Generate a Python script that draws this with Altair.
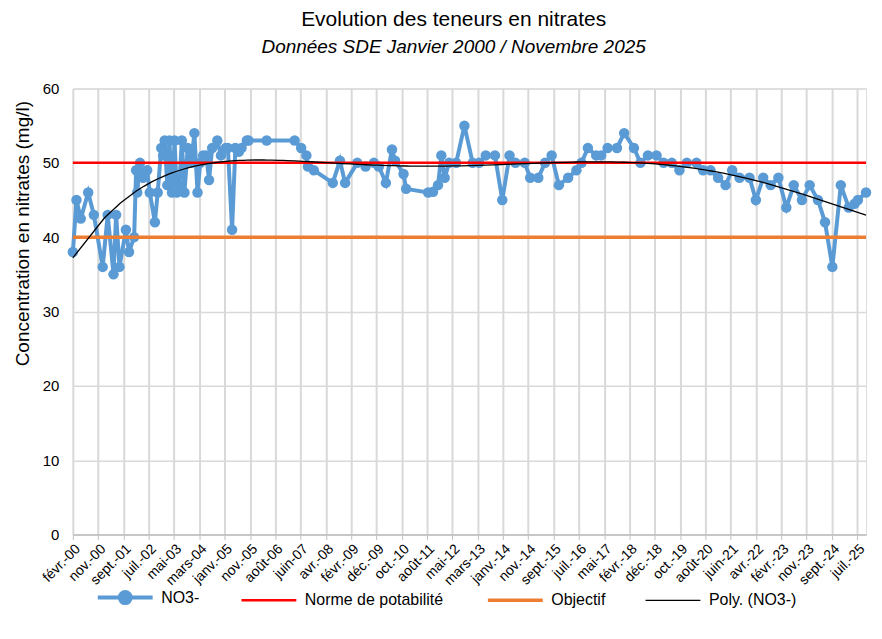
import json
import altair as alt
import pandas as pd

# ---- data ----
dates = [
    "2000-02-01", "2000-03-15", "2000-05-05", "2000-08-01", "2000-10-07",
    "2001-01-20", "2001-03-20", "2001-05-28", "2001-06-28", "2001-08-07",
    "2001-10-22", "2001-11-28", "2002-01-28", "2002-02-20", "2002-03-05",
    "2002-04-07", "2002-05-13", "2002-07-01", "2002-08-01", "2002-10-01",
    "2002-11-03", "2002-12-15", "2003-01-07", "2003-01-25", "2003-02-25",
    "2003-03-22", "2003-04-22", "2003-05-22", "2003-06-18", "2003-07-18",
    "2003-08-16", "2003-09-16", "2003-10-25", "2003-12-06", "2004-01-12",
    "2004-02-18", "2004-03-22", "2004-04-25", "2004-06-01", "2004-07-04",
    "2004-08-10", "2004-10-10", "2004-11-22", "2005-01-18", "2005-02-12",
    "2005-04-03", "2005-05-12", "2005-06-22", "2005-07-25", "2005-09-25",
    "2005-10-15", "2006-05-18", "2007-04-15", "2007-07-01", "2007-09-01",
    "2007-09-20", "2007-11-28", "2008-07-10", "2008-10-03", "2008-12-03",
    "2009-04-27", "2009-08-03", "2009-11-10", "2010-01-07", "2010-04-01",
    "2010-06-12", "2010-07-19", "2010-10-27", "2010-11-27", "2011-08-15",
    "2011-10-12", "2011-12-10", "2012-01-18", "2012-02-27", "2012-04-20",
    "2012-07-12", "2012-10-18", "2013-01-24", "2013-04-10", "2013-06-28",
    "2013-10-15", "2014-01-10", "2014-04-06", "2014-06-15", "2014-10-03",
    "2014-12-07", "2015-03-13", "2015-06-01", "2015-08-18", "2015-11-12",
    "2016-03-01", "2016-06-07", "2016-08-06", "2016-10-21", "2017-01-28",
    "2017-03-28", "2017-06-12", "2017-10-01", "2017-12-25", "2018-04-20",
    "2018-07-06", "2018-10-03", "2019-01-13", "2019-04-07", "2019-07-13",
    "2019-10-12", "2020-01-07", "2020-05-01", "2020-07-18", "2020-10-13",
    "2021-01-12", "2021-04-11", "2021-06-28", "2021-09-23", "2022-01-20",
    "2022-04-05", "2022-07-01", "2022-09-28", "2022-12-28", "2023-04-01",
    "2023-06-28", "2023-10-03", "2024-01-03", "2024-04-10", "2024-07-03",
    "2024-09-28", "2025-01-06", "2025-04-10", "2025-06-18", "2025-07-28",
    "2025-11-01",
]
no3 = [
    38, 45, 42.5, 46, 43,
    36, 43, 35, 43, 36,
    41, 38, 40, 49, 46,
    50, 48, 49, 46, 42,
    46, 52, 51, 53, 47,
    53, 46, 53, 46, 47,
    53, 46, 52, 50, 54,
    46, 50, 51, 51, 47.7,
    52, 53, 51, 52, 52,
    41, 52, 51.5, 52, 53,
    53, 53, 53, 52, 51,
    49.5, 49, 47.3, 50.3, 47.3,
    50, 49.5, 50, 49.5, 47.3,
    51.8, 50.3, 48.5, 46.5, 46,
    46.1, 47, 51, 48, 50,
    50, 55, 50, 50, 51,
    51, 45, 51, 50, 50,
    48, 48, 50, 51, 47,
    48, 49, 50, 52, 51,
    51, 52, 52, 54, 52,
    50, 51, 51, 50, 50,
    49, 50, 50, 49, 49,
    48, 47, 49, 48, 48,
    45, 48, 47, 48, 44,
    47, 45, 47, 45, 42,
    36, 47, 44, 44.5, 45,
    46,
]
tick_labels = [
    "févr.-00", "nov.-00", "sept.-01", "juil.-02", "mai-03", "mars-04",
    "janv.-05", "nov.-05", "août-06", "juin-07", "avr.-08", "févr.-09",
    "déc.-09", "oct.-10", "août-11", "mai-12", "mars-13", "janv.-14",
    "nov.-14", "sept.-15", "juil.-16", "mai-17", "févr.-18", "déc.-18",
    "oct.-19", "août-20", "juin-21", "avr.-22", "févr.-23", "nov.-23",
    "sept.-24", "juil.-25",
]
series_names = ["NO3-", "Norme de potabilité", "Objectif", "Poly. (NO3-)"]
series_colors = ["#5b9bd5", "#ff0000", "#ed7d31", "#000000"]
norme_value = 50
objectif_value = 40
tick_step_days = 300
y_ticks = [0, 10, 20, 30, 40, 50, 60]

# ---- tables ----
start = pd.Timestamp(dates[0])
t_years = [(pd.Timestamp(d) - start).days / 365.25 for d in dates]
df = pd.DataFrame({"t": t_years, "val": no3, "series": series_names[0]})
tmax = t_years[-1]
tick_vals = [i * tick_step_days / 365.25 for i in range(len(tick_labels))]
label_expr = (json.dumps(tick_labels, ensure_ascii=False)
              + f"[round(datum.value*365.25/{tick_step_days})]")

FONT = "Liberation Sans"

color_scale = alt.Scale(domain=series_names, range=series_colors)

line_path = "M-1,0H1"
dot_path = "M-1,0H1M0.2,0A0.2,0.2,0,1,1,-0.2,0A0.2,0.2,0,1,1,0.2,0Z"

legend = alt.Legend(
    title=None, orient="none", direction="horizontal",
    legendX=25, legendY=502,
    labelFont=FONT, labelFontSize=16, labelColor="#000000",
    symbolType=alt.ExprRef(expr=f"datum.value === 'NO3-' ? '{dot_path}' : '{line_path}'"),
    symbolFillColor=alt.ExprRef(expr="datum.value === 'NO3-' ? '#5b9bd5' : 'transparent'"),
    symbolStrokeWidth=alt.ExprRef(expr="datum.value === 'NO3-' ? 4 : (datum.value === 'Objectif' ? 3.5 : (datum.value === 'Norme de potabilité' ? 2.5 : 1.2))"),
    symbolOpacity=1, symbolOffset=19.5,
    symbolSize=3025, labelOffset=28,
    columnPadding=37,
)

x_enc = alt.X(
    "t:Q",
    scale=alt.Scale(domain=[0, tmax], nice=False, zero=False),
    axis=alt.Axis(
        values=tick_vals, tickCount=len(tick_labels) + 10,
        labelExpr=label_expr, labelAngle=-45,
        title=None, grid=True, gridColor="#d9d9d9", gridWidth=2,
        domainColor="#bfbfbf", domainWidth=1.5, tickColor="#bfbfbf", tickSize=5,
        labelFont=FONT, labelFontSize=14, labelColor="#000000", labelPadding=2,
        labelOverlap=False, labelBound=False,
    ),
)
y_enc = alt.Y(
    "val:Q",
    scale=alt.Scale(domain=[0, 60], nice=False),
    axis=alt.Axis(
        values=y_ticks, title="Concentration en nitrates (mg/l)",
        titleFont=FONT, titleFontSize=19, titleFontWeight="normal",
        titleColor="#000000", titlePadding=10, titleY=145,
        labelFont=FONT, labelFontSize=15, labelColor="#000000", labelPadding=14,
        grid=True, gridColor="#d9d9d9", gridWidth=1.5,
        domain=False, ticks=False,
    ),
)

no3_layer = alt.Chart(df).mark_line(
    strokeWidth=4,
    point=alt.OverlayMarkDef(filled=True, size=110, opacity=1),
).encode(
    x=x_enc, y=y_enc,
    color=alt.Color("series:N", scale=color_scale, legend=legend),
)

norme_layer = alt.Chart(
    pd.DataFrame({"val": [norme_value], "series": [series_names[1]]})
).mark_rule(strokeWidth=2.5).encode(
    y="val:Q", color=alt.Color("series:N", scale=color_scale, legend=legend)
)

objectif_layer = alt.Chart(
    pd.DataFrame({"val": [objectif_value], "series": [series_names[2]]})
).mark_rule(strokeWidth=3.5).encode(
    y="val:Q", color=alt.Color("series:N", scale=color_scale, legend=legend)
)

poly_layer = alt.Chart(df).transform_regression(
    "t", "val", method="poly", order=5, extent=[0, tmax]
).transform_calculate(
    series=f"'{series_names[3]}'"
).mark_line(strokeWidth=1.3).encode(
    x="t:Q", y="val:Q",
    color=alt.Color("series:N", scale=color_scale, legend=legend),
)

chart = alt.layer(
    no3_layer, norme_layer, objectif_layer, poly_layer
).properties(
    width=795, height=447,
    padding={"left": 5, "top": 0, "right": 0, "bottom": 0},
    title=alt.TitleParams(
        "Evolution des teneurs en nitrates",
        subtitle="Données SDE Janvier 2000 / Novembre 2025",
        font=FONT, fontSize=21, fontWeight="normal", color="#000000",
        subtitleFont=FONT, subtitleFontSize=19, subtitleFontStyle="italic",
        subtitleColor="#000000", subtitlePadding=8,
        anchor="middle", frame="bounds", offset=25, dx=10,
    ),
).configure_view(stroke=None).configure(background="white")

chart.save("out.html", embed_options={"renderer": "svg", "actions": False})
